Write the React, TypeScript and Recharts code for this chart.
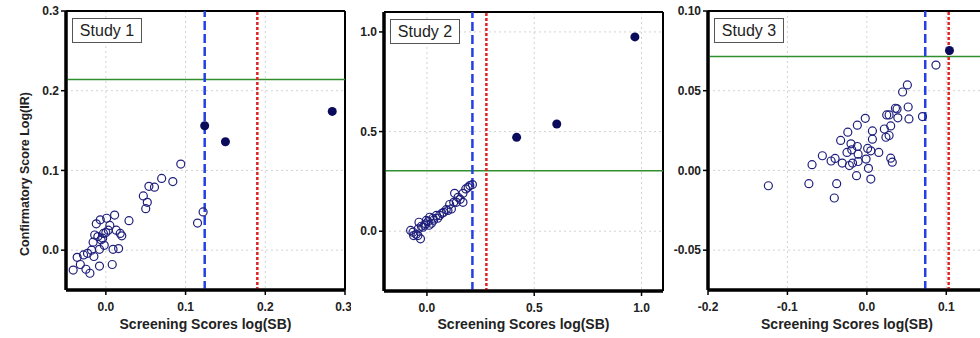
import React from "react";
import { ScatterChart, Scatter, XAxis, YAxis, CartesianGrid, ReferenceLine, Label } from "recharts";

type Pair = [number, number];

const studyNames = ["Study 1", "Study 2", "Study 3"];
const xTitle = "Screening Scores log(SB)";
const yTitle = "Confirmatory Score Log(IR)";

// open circles = non-hits, filled = confirmed hits
const study1Open: Pair[] = [
  [-0.041, -0.025], [-0.036, -0.009], [-0.032, -0.018], [-0.028, -0.006], [-0.025, -0.024],
  [-0.023, -0.004], [-0.02, -0.029], [-0.018, 0.0], [-0.016, 0.01], [-0.015, -0.008],
  [-0.014, 0.019], [-0.012, 0.033], [-0.01, 0.017], [-0.008, -0.02], [-0.008, 0.001],
  [-0.007, 0.038], [-0.006, 0.013], [-0.004, 0.015], [-0.003, 0.021], [-0.002, 0.006],
  [0.0, 0.022], [0.001, 0.04], [0.003, 0.025], [0.005, 0.031], [0.008, -0.018],
  [0.009, 0.001], [0.011, 0.044], [0.013, 0.025], [0.016, 0.002], [0.018, 0.021],
  [0.02, 0.018], [0.029, 0.037], [0.047, 0.068], [0.05, 0.052], [0.052, 0.06],
  [0.054, 0.08], [0.061, 0.079], [0.07, 0.09], [0.084, 0.086], [0.094, 0.108],
  [0.115, 0.034], [0.122, 0.048],
];
const study1Hits: Pair[] = [[0.124, 0.156], [0.15, 0.136], [0.284, 0.174]];

const study2Open: Pair[] = [
  [-0.076, 0.004], [-0.065, -0.005], [-0.062, -0.022], [-0.05, -0.015], [-0.042, -0.022],
  [-0.04, 0.012], [-0.037, 0.045], [-0.03, -0.038], [-0.026, 0.025], [-0.019, 0.02],
  [-0.011, 0.03], [-0.006, 0.037], [-0.003, 0.054], [0.005, 0.048], [0.01, 0.03],
  [0.013, 0.07], [0.021, 0.04], [0.028, 0.065], [0.031, 0.055], [0.044, 0.079],
  [0.05, 0.065], [0.059, 0.079], [0.07, 0.09], [0.078, 0.095], [0.09, 0.108],
  [0.098, 0.104], [0.106, 0.134], [0.114, 0.112], [0.125, 0.145], [0.129, 0.19],
  [0.137, 0.145], [0.145, 0.17], [0.155, 0.16], [0.168, 0.145], [0.168, 0.19],
  [0.181, 0.212], [0.192, 0.22], [0.2, 0.229], [0.212, 0.234],
];
const study2Hits: Pair[] = [[0.418, 0.471], [0.605, 0.538], [0.969, 0.975]];

const study3Open: Pair[] = [
  [-0.124, -0.0096], [-0.073, -0.0083], [-0.069, 0.0036], [-0.056, 0.0092], [-0.045, 0.0059],
  [-0.04, 0.0075], [-0.038, -0.0083], [-0.041, -0.0173], [-0.031, 0.0046], [-0.033, 0.0188],
  [-0.024, 0.024], [-0.025, 0.0113], [-0.022, 0.0031], [-0.02, 0.0167], [-0.019, 0.0129],
  [-0.018, 0.0046], [-0.012, 0.0284], [-0.013, -0.0033], [-0.012, 0.015], [-0.011, 0.0102],
  [-0.011, 0.0056], [-0.001, 0.0071], [-0.002, 0.0327], [0.001, 0.0138], [0.002, 0.0013],
  [0.005, -0.0054], [0.005, 0.0123], [0.007, 0.0196], [0.007, 0.0248], [0.015, 0.0113],
  [0.022, 0.026], [0.024, 0.0208], [0.028, 0.0219], [0.025, 0.0348], [0.028, 0.0348],
  [0.03, 0.0279], [0.03, 0.0077], [0.032, 0.0052], [0.038, 0.0386], [0.039, 0.033],
  [0.036, 0.039], [0.045, 0.0492], [0.051, 0.0536], [0.052, 0.0398], [0.053, 0.0323],
  [0.07, 0.0338], [0.087, 0.0661],
];
const study3Hits: Pair[] = [[0.104, 0.0752]];

const study1XTicks = [0, 0.1, 0.2, 0.3];
const study1YTicks = [0, 0.1, 0.2, 0.3];
const study2XTicks = [0, 0.5, 1.0];
const study2YTicks = [0, 0.5, 1.0];
const study3XTicks = [-0.2, -0.1, 0, 0.1];
const study3YTicks = [-0.05, 0, 0.05, 0.1];

// thresholds: [blue dashed x, red dotted x, green y]
const study1Cutoffs = [0.124, 0.19, 0.214];
const study2Cutoffs = [0.212, 0.277, 0.304];
const study3Cutoffs = [0.0735, 0.103, 0.0714];

const FONT = "'Liberation Sans', Arial, sans-serif";
const NAVY = "#1f1f7c";

const toPts = (arr: Pair[]) => arr.map(([x, y]) => ({ x, y }));

interface PanelProps {
  name: string;
  plotLeft: number;
  plotTop: number;
  plotW: number;
  plotH: number;
  xDomain: [number, number];
  yDomain: [number, number];
  xTicks: number[];
  yTicks: number[];
  xDigits: number;
  yDigits: number;
  open: Pair[];
  hits: Pair[];
  cutoffs: number[];
  showYTitle?: boolean;
}

function Panel(p: PanelProps) {
  const yAxisW = 60;
  const chartLeft = p.plotLeft - yAxisW;
  const width = p.plotW + yAxisW + 6;
  const xAxisH = 338 - p.plotTop - p.plotH;
  const tickStyle = { fontSize: 12, fontWeight: 700, fill: "#222", fontFamily: FONT };
  const titleX = 25 - chartLeft;

  return (
    <div style={{ position: "absolute", left: chartLeft, top: 0, width, height: 338 }}>
      <ScatterChart width={width} height={338} margin={{ top: p.plotTop, right: 6, bottom: 0, left: 0 }}>
        <CartesianGrid stroke="#d2d2d2" strokeDasharray="2 3" />
        <XAxis
          type="number"
          dataKey="x"
          domain={p.xDomain}
          ticks={p.xTicks}
          allowDataOverflow
          height={xAxisH}
          tickFormatter={(v: number) => v.toFixed(p.xDigits)}
          tick={tickStyle}
          tickSize={5}
          tickMargin={7}
          stroke="#000"
          axisLine={{ strokeWidth: 3 }}
          tickLine={{ strokeWidth: 1.5 }}
        >
          <Label
            value={xTitle}
            position="insideBottom"
            offset={9}
            style={{ fontSize: 14, fontWeight: 700, fill: "#222", fontFamily: FONT }}
          />
        </XAxis>
        <YAxis
          type="number"
          dataKey="y"
          domain={p.yDomain}
          ticks={p.yTicks}
          allowDataOverflow
          width={yAxisW}
          tickFormatter={(v: number) => v.toFixed(p.yDigits)}
          tick={tickStyle}
          tickSize={5}
          tickMargin={2}
          stroke="#000"
          axisLine={{ strokeWidth: 3 }}
          tickLine={{ strokeWidth: 1.5 }}
        >
          {p.showYTitle && (
            <Label
              content={() => (
                <text
                  x={titleX}
                  y={174}
                  transform={`rotate(-90, ${titleX}, 174)`}
                  textAnchor="middle"
                  dominantBaseline="central"
                  style={{ fontSize: 12.5, fontWeight: 700, fill: "#222", fontFamily: FONT }}
                >
                  {yTitle}
                </text>
              )}
            />
          )}
        </YAxis>
        {/* plot frame */}
        <ReferenceLine x={p.xDomain[0]} stroke="#000" strokeWidth={3} />
        <ReferenceLine y={p.yDomain[0]} stroke="#000" strokeWidth={3} />
        <ReferenceLine x={p.xDomain[1]} stroke="#000" strokeWidth={2} />
        <ReferenceLine y={p.yDomain[1]} stroke="#000" strokeWidth={2} />
        <ReferenceLine y={p.cutoffs[2]} stroke="#2f8f2f" strokeWidth={1.5} />
        <ReferenceLine x={p.cutoffs[0]} stroke="#2440e0" strokeWidth={2.5} strokeDasharray="9 4" />
        <ReferenceLine x={p.cutoffs[1]} stroke="#e02424" strokeWidth={2.5} strokeDasharray="3 2" />
        <Scatter
          data={toPts(p.open)}
          isAnimationActive={false}
          shape={(s: any) => <circle cx={s.cx} cy={s.cy} r={4} fill="none" stroke={NAVY} strokeWidth={1.2} />}
        />
        <Scatter
          data={toPts(p.hits)}
          isAnimationActive={false}
          shape={(s: any) => <circle cx={s.cx} cy={s.cy} r={4.5} fill="#0b0b5c" />}
        />
      </ScatterChart>
      <div
        style={{
          position: "absolute",
          left: yAxisW + 6,
          top: p.plotTop + 7,
          width: 68,
          height: 23,
          border: "1px solid #555",
          background: "#fff",
          fontFamily: FONT,
          fontSize: 16,
          lineHeight: "23px",
          textAlign: "center",
          color: "#222",
        }}
      >
        {p.name}
      </div>
    </div>
  );
}

export default function App() {
  return (
    <div style={{ position: "absolute", left: 0, top: 0, width: 980, height: 338, overflow: "hidden", background: "#fff" }}>
      <Panel
        name={studyNames[0]}
        plotLeft={66}
        plotTop={11}
        plotW={279}
        plotH={279}
        xDomain={[-0.05, 0.3]}
        yDomain={[-0.05, 0.3]}
        xTicks={study1XTicks}
        yTicks={study1YTicks}
        xDigits={1}
        yDigits={1}
        open={study1Open}
        hits={study1Hits}
        cutoffs={study1Cutoffs}
        showYTitle
      />
      <Panel
        name={studyNames[1]}
        plotLeft={384}
        plotTop={12}
        plotW={279}
        plotH={279}
        xDomain={[-0.2, 1.1]}
        yDomain={[-0.3, 1.1]}
        xTicks={study2XTicks}
        yTicks={study2YTicks}
        xDigits={1}
        yDigits={1}
        open={study2Open}
        hits={study2Hits}
        cutoffs={study2Cutoffs}
      />
      <Panel
        name={studyNames[2]}
        plotLeft={708}
        plotTop={11}
        plotW={278}
        plotH={279}
        xDomain={[-0.2, 0.15]}
        yDomain={[-0.075, 0.1]}
        xTicks={study3XTicks}
        yTicks={study3YTicks}
        xDigits={1}
        yDigits={2}
        open={study3Open}
        hits={study3Hits}
        cutoffs={study3Cutoffs}
      />
    </div>
  );
}
